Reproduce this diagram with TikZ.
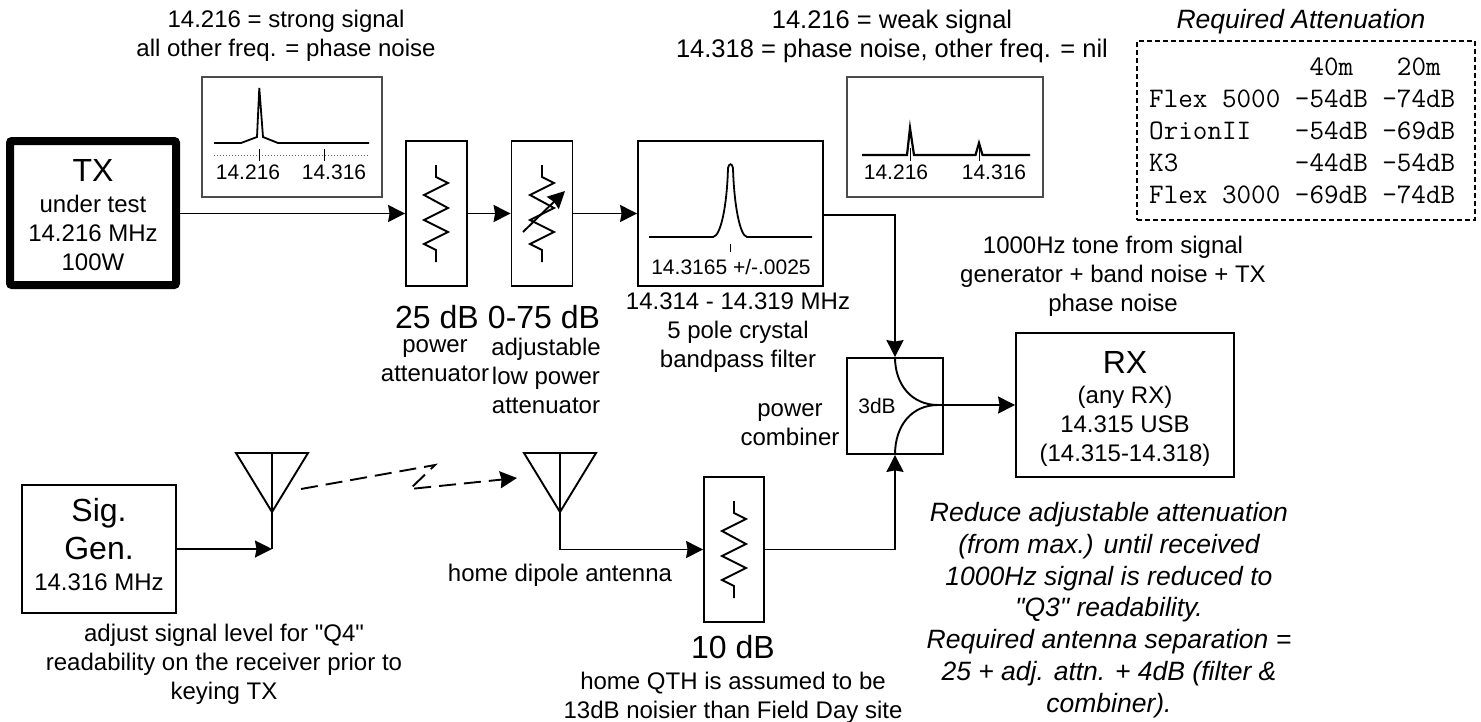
\documentclass[tikz,border=0pt]{standalone}
\usepackage{fontspec}
\setmainfont{Liberation Sans}[Ligatures=TeXOff]
\usetikzlibrary{arrows.meta}
\newcommand{\fsz}[2]{\fontsize{#1}{#2}\selectfont}
\tikzset{
  wire/.style={line width=1.9pt},
  arr/.style={wire,-{Stealth[length=17pt,width=17pt,inset=1.5pt]}},
  blockbox/.style={draw,line width=1.8pt,inner sep=0pt,align=center,font=\fsz{24}{29}},
  scopebox/.style={draw=black!70,line width=1.3pt,inner sep=0pt},
  lbl/.style={inner sep=0pt,align=center,font=\fsz{24}{29}},
  bigl/.style={inner sep=0pt,align=center,font=\fsz{32}{36}},
  ilbl/.style={inner sep=0pt,align=center,font=\fsz{26.5}{31.8}\itshape},
  scale lbl/.style={inner sep=0pt,align=center,font=\fsz{21}{25}},
  tickmark/.style={line width=0.8pt},
  trace/.style={line width=1.8pt,line join=miter},
  zz/.pic={\draw[wire,line join=miter] (0,24)--(0,36)--(12,42)--(-12,54)--(12,67)--(-12,79)--(12,91)--(-12,103)--(0,109)--(0,121);},
  antenna/.pic={\draw[wire,line join=miter] (-36,0)--(36,0)--(0,59)--cycle (0,0)--(0,59);}
}
\begin{document}
\begin{tikzpicture}[x=1pt,y=-1pt]
\useasboundingbox (0,0) rectangle (1481,721);
% blocks
\node[blockbox,rounded corners=2pt,line width=8pt,minimum width=166pt,minimum height=144pt] (tx) at (93,213)
  {{\rule{0pt}{26pt}\fsz{32}{36}TX}\\[2pt]under test\\14.216 MHz\\100W};
\node[blockbox,minimum width=61pt,minimum height=145pt] (att1) at (436.5,213.5) {};
\node[blockbox,minimum width=61pt,minimum height=145pt] (att2) at (542,213.5) {};
\node[blockbox,minimum width=185pt,minimum height=145pt] (filt) at (730.5,213.5) {};
\node[blockbox,minimum width=96pt,minimum height=96pt] (comb) at (895,406) {};
\node[blockbox,minimum width=218pt,minimum height=144pt] (rx) at (1125,405)
  {{\rule{0pt}{29pt}\fsz{32}{36}RX}\\[1pt](any RX)\\14.315 USB\\(14.315-14.318)};
\node[blockbox,minimum width=154pt,minimum height=128pt] (sig) at (99,549)
  {{\fsz{32}{38}Sig.}\\[9pt]{\fsz{32}{38}Gen.}\\[2pt]14.316 MHz\rule[-9pt]{0pt}{0pt}};
\node[blockbox,minimum width=60pt,minimum height=145pt] (att3) at (734,549.5) {};
\node[scopebox,minimum width=180pt,minimum height=120pt] (sc1) at (292,137) {};
\node[scopebox,minimum width=196pt,minimum height=120pt] (sc2) at (945,137) {};
\node[draw,dash pattern=on 5pt off 3pt,line width=1.5pt,inner sep=0pt,minimum width=338pt,minimum height=179pt] (tbl) at (1306,130.5) {};
% zigzags
\pic at (436,141) {zz};
\pic at (542,141) {zz};
\pic at (734,477) {zz};
\coordinate (varA) at (523,232);
\coordinate (varB) at (565,191);
\draw[arr] (varA)--(varB);
% scope 1
\draw[trace] (214,143)--(241,143)--(257,137)--(259.3,88)--(263,137)--(278,143)--(369,143);
\draw[line width=1pt,black!60,dotted] (214,155)--(369,155);
\draw[tickmark] (259.3,149)--(259.3,161) (324,149)--(324,161);
\node[scale lbl] (s1a) at (248,172) {14.216};
\node[scale lbl] (s1b) at (334,172) {14.316};
% scope 2
\draw[line width=2.2pt,line join=miter] (862,155)--(907,155)--(910,128)--(914,155)--(975.5,155)--(979,143)--(982.5,155)--(1030,155);
\draw[tickmark] (910,148)--(910,161) (979,148)--(979,161);
\node[scale lbl] (s2a) at (896,172) {14.216};
\node[scale lbl] (s2b) at (994,172) {14.316};
% filter
\draw[trace] (649,237)--(713,237) .. controls (721,236) and (727,205) .. (728,168) .. controls (729,163) and (732,163) .. (733,168) .. controls (734,205) and (740,236) .. (747,237) -- (812,237);
\draw[tickmark] (730.5,244)--(730.5,252);
\node[scale lbl] (flbl) at (731,267) {14.3165 +/-.0025};
% combiner
\coordinate (combj) at (938,405);
\draw[wire] (comb.north) .. controls (895,385) and (912,405) .. (combj);
\draw[wire] (comb.south) .. controls (895,425) and (912,405) .. (combj);
\node[scale lbl] (cdb) at (877,406) {3dB};
% antennas
\pic at (272,453) {antenna};
\pic at (560,453) {antenna};
\coordinate (a1apex) at (272,512);
\coordinate (a1foot) at (272,549);
\coordinate (a2apex) at (560,512);
\draw[wire] (a1apex)--(a1foot);
% connectors
\draw[arr] (tx.east |- att1.west)--(att1.west);
\draw[arr] (att1.east)--(att2.west);
\draw[arr] (att2.east)--(filt.west);
\draw[arr] (filt.east |- 0,215) -| (comb.north);
\draw[arr] (comb.east |- combj)--(rx.west);
\draw[wire] (combj)--(comb.east |- combj);
\draw[arr] (sig.east)--(a1foot);
\draw[arr] (a2apex) |- (att3.west);
\draw[arr] (att3.east) -| (comb.south);
\coordinate (linkA) at (301,489);
\coordinate (linkB) at (435,465);
\coordinate (linkC) at (410,489);
\coordinate (linkD) at (517,478);
\draw[wire,dash pattern=on 17pt off 8pt,-{Stealth[length=17pt,width=17pt,inset=1.5pt]}] (linkA)--(linkB)--(linkC)--(linkD);
% labels
\node[lbl] (t1) at (286,36) {14.216 = strong signal\\all other freq. = phase noise};
\node[lbl,font=\fsz{25.5}{29}] (t2) at (892,36) {14.216 = weak signal\\14.318 = phase noise, other freq. = nil};
\node[ilbl] (t3) at (1301,22) {Required Attenuation};
\node[inner sep=0pt,align=left,anchor=north west,font=\fsz{28.3}{32}\ttfamily] (tab) at (1149,58)
 {~~~~~~~~~~~40m~~~20m\\Flex 5000 -54dB -74dB\\OrionII~~~-54dB -69dB\\K3~~~~~~~~-44dB -54dB\\Flex 3000 -69dB -74dB};
\node[bigl] (l1) at (437,317) {25 dB};
\node[lbl] (l1b) at (435,361) {power\\attenuator};
\node[bigl] (l2) at (544,317) {0-75 dB};
\node[lbl] (l2b) at (546,376) {adjustable\\low power\\attenuator};
\node[lbl] (l3) at (738,333) {14.314 - 14.319 MHz\\5 pole crystal\\bandpass filter};
\node[lbl] (l4) at (790,425) {power\\combiner};
\node[lbl] (l5) at (1113,276) {1000Hz tone from signal\\generator + band noise + TX\\phase noise};
\node[lbl] (l6) at (560,575) {home dipole antenna};
\node[bigl] (l7) at (733,647) {10 dB};
\node[lbl] (l8) at (733,698) {home QTH is assumed to be\\13dB noisier than Field Day site};
\node[lbl] (l9) at (224,664) {adjust signal level for "Q4"\\readability on the receiver prior to\\keying TX};
\node[ilbl] (l10) at (1109,610) {Reduce adjustable attenuation\\(from max.) until received\\1000Hz signal is reduced to\\"Q3" readability.\\Required antenna separation =\\25 + adj. attn. + 4dB (filter \&\\combiner).};
\end{tikzpicture}
\end{document}
